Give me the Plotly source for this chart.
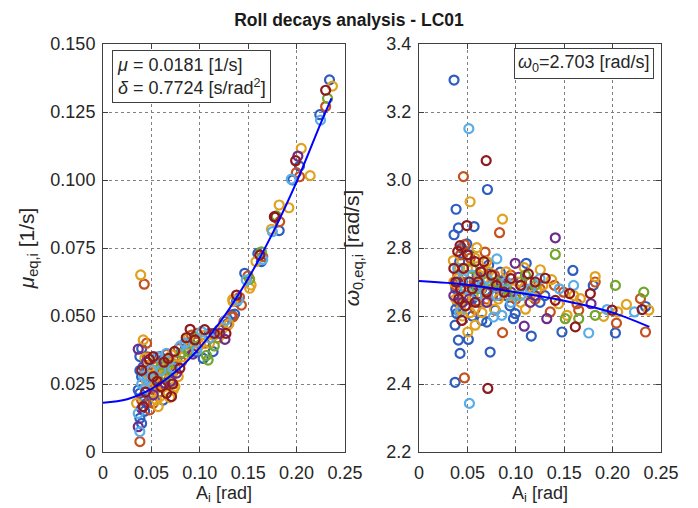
import plotly.graph_objects as go

# ---------------- data ----------------
series_names = ["blue", "orange", "yellow", "purple", "green", "lightblue", "darkred"]
series_colors = ["#2D5DBE", "#C4511E", "#E0A21E", "#6E2C8C", "#72A62D", "#5AADE8", "#8C1A1E"]

# left panel: (A_i [rad], mu_eq,i [1/s])
blue_left = [(0.0381,0.0351),(0.0416,0.0314),(0.0399,0.0277),(0.0364,0.0228),(0.0381,0.0216),(0.0381,0.0124),(0.0399,0.0105),(0.0450,0.0179),(0.0416,0.0204),(0.0484,0.0204),(0.0502,0.0246),(0.0622,0.0191),(0.0588,0.0351),(0.0691,0.0265),(0.0381,0.0300),(0.0433,0.0290),(0.0450,0.0330),(0.0520,0.0280),(0.0600,0.0310),(0.0700,0.0330),(0.0760,0.0340),(0.0850,0.0380),(0.1035,0.0344),(0.1137,0.0369),(0.1100,0.0436),(0.1280,0.0470),(0.1360,0.0507),(0.1380,0.0553),(0.1327,0.0504),(0.1464,0.0657),(0.1600,0.0730),(0.1636,0.0700),(0.1820,0.0814),(0.1960,0.1000),(0.2030,0.1051),(0.2340,0.1368),(0.2240,0.1240),(0.0900,0.0400),(0.0650,0.0300),(0.0550,0.0240),
             (0.0400,0.0380),(0.0470,0.0250),(0.0540,0.0300),(0.0620,0.0340),(0.0800,0.0360),(0.0950,0.0370),(0.1200,0.0450),(0.0430,0.0150)]
orange_left = [(0.0399,0.0191),(0.0381,0.0038),(0.0450,0.0400),(0.0426,0.0617),(0.0553,0.0314),(0.0725,0.0295),(0.0811,0.0332),(0.0519,0.0179),(0.0484,0.0155),(0.0970,0.0436),(0.1327,0.0498),(0.1290,0.0467),(0.1498,0.0647),(0.1410,0.0569),(0.1430,0.0540),(0.1344,0.0497),(0.1650,0.0718),(0.1825,0.0847),(0.1997,0.1027),(0.2030,0.1012),(0.2300,0.1270),(0.0620,0.0330),(0.0480,0.0260),(0.0700,0.0250),(0.0580,0.0220),(0.0914,0.0430),(0.1180,0.0420),(0.0440,0.0300),(0.0660,0.0360),(0.0780,0.0380),
               (0.0460,0.0350),(0.0530,0.0230),(0.0600,0.0280),(0.0680,0.0320),(0.0850,0.0400),(0.1050,0.0400),(0.1250,0.0480)]
yellow_left = [(0.0389,0.0651),(0.0416,0.0412),(0.0433,0.0345),(0.0467,0.0283),(0.0450,0.0259),(0.0553,0.0253),(0.0622,0.0283),(0.0588,0.0204),(0.0553,0.0191),(0.0570,0.0167),(0.0742,0.0240),(0.0725,0.0228),(0.0777,0.0277),(0.0760,0.0320),(0.0708,0.0357),(0.0863,0.0375),(0.0880,0.0418),(0.1000,0.0393),(0.1050,0.0430),(0.1190,0.0418),(0.1240,0.0455),(0.1343,0.0553),(0.1340,0.0561),(0.1530,0.0614),(0.1515,0.0602),(0.1580,0.0700),(0.1740,0.0819),(0.1820,0.0908),(0.1920,0.0898),(0.2048,0.1116),(0.2140,0.1016),(0.2370,0.1345),(0.0347,0.0179),(0.0600,0.0270),(0.0650,0.0310),(0.0520,0.0330),(0.0690,0.0200),(0.0830,0.0350),(0.1100,0.0400),(0.0950,0.0380),
               (0.0480,0.0310),(0.0500,0.0220),(0.0630,0.0240),(0.0670,0.0340),(0.0710,0.0280),(0.0900,0.0390),(0.1150,0.0430),(0.1300,0.0470),(0.0560,0.0290)]
purple_left = [(0.0364,0.0378),(0.0364,0.0093),(0.0639,0.0253),(0.1206,0.0436),(0.1260,0.0414),(0.2013,0.1088),(0.0400,0.0160),(0.0760,0.0290),(0.0520,0.0210),(0.0930,0.0360),(0.0450,0.0330),(0.0700,0.0260)]
green_left = [(0.0811,0.0363),(0.1069,0.0355),(0.1086,0.0338),(0.0605,0.0320),(0.1515,0.0635),(0.1636,0.0736),(0.1790,0.0868),(0.2320,0.1300),(0.0700,0.0300),(0.0950,0.0420),(0.1150,0.0390),(0.0650,0.0280),(0.0880,0.0370)]
lightblue_left = [(0.0364,0.0142),(0.0381,0.0075),(0.0433,0.0234),(0.0502,0.0302),(0.0656,0.0363),(0.0845,0.0400),(0.0970,0.0375),(0.1020,0.0442),(0.1270,0.0485),(0.1395,0.0559),(0.1480,0.0632),(0.1650,0.0708),(0.1750,0.0810),(0.1945,0.1003),(0.2247,0.1220),(0.0420,0.0280),(0.0560,0.0350),(0.0720,0.0310),(0.0400,0.0250),
                  (0.0460,0.0270),(0.0600,0.0300),(0.0800,0.0390),(0.1100,0.0420)]
darkred_left = [(0.0416,0.0167),(0.0519,0.0351),(0.0674,0.0344),(0.0794,0.0308),(0.0708,0.0204),(0.0519,0.0277),(0.0656,0.0216),(0.0900,0.0451),(0.0950,0.0412),(0.1150,0.0436),(0.1270,0.0436),(0.1380,0.0577),(0.1620,0.0724),(0.1770,0.0865),(0.1780,0.0863),(0.1990,0.1071),(0.2300,0.1330),(0.0480,0.0340),(0.0600,0.0240),(0.0740,0.0370),(0.0440,0.0220),
                (0.0560,0.0260),(0.0630,0.0330),(0.0720,0.0250),(0.0860,0.0420),(0.1050,0.0450),(0.0400,0.0300)]

# right panel: (A_i [rad], omega_0,eq,i [rad/s])
blue_right = [(0.0362,3.294),(0.0707,2.972),(0.0383,2.914),(0.0407,2.859),(0.0569,2.863),(0.0362,2.839),(0.0494,2.812),(0.1108,2.755),(0.1590,2.734),(0.0407,2.529),(0.0510,2.531),(0.0424,2.490),(0.0735,2.494),(0.1160,2.541),(0.0373,2.573),(0.0390,2.607),(0.0649,2.587),(0.0700,2.582),(0.0976,2.592),(0.0994,2.607),(0.0787,2.617),(0.0373,2.405),(0.2340,2.628),(0.2029,2.550),(0.1477,2.553),(0.0839,2.729),(0.0450,2.700),(0.0550,2.650),(0.0600,2.720),(0.0420,2.760),(0.0480,2.630),(0.0380,2.680),(0.0650,2.680),(0.0900,2.660),(0.1050,2.700),(0.0520,2.780),(0.0720,2.750),(0.0380,2.620),(0.1300,2.660),(0.1800,2.690),
              (0.0400,2.640),(0.0460,2.720),(0.0580,2.690),(0.0620,2.640),(0.0680,2.710),(0.0760,2.660),(0.0850,2.690),(0.0940,2.630),(0.1120,2.670),(0.1250,2.640),(0.0440,2.800),(0.0550,2.600)]
orange_right = [(0.0459,3.010),(0.0832,2.845),(0.0683,2.788),(0.0863,2.551),(0.0469,2.418),(0.1820,2.700),(0.2288,2.651),(0.2340,2.553),(0.2040,2.579),(0.1632,2.636),(0.1650,2.617),(0.1356,2.612),(0.1494,2.670),(0.0400,2.720),(0.0480,2.660),(0.0550,2.740),(0.0620,2.700),(0.0700,2.650),(0.0780,2.720),(0.0900,2.690),(0.1000,2.650),(0.1150,2.700),(0.0430,2.780),(0.0580,2.620),(0.1250,2.680),
                (0.0380,2.690),(0.0440,2.640),(0.0500,2.700),(0.0530,2.770),(0.0600,2.660),(0.0660,2.730),(0.0740,2.690),(0.0840,2.660),(0.0950,2.720),(0.1080,2.680),(0.1200,2.650),(0.1400,2.690),(0.0470,2.810),(0.0570,2.700)]
yellow_right = [(0.0528,2.936),(0.0863,2.885),(0.0597,2.801),(0.0355,2.763),(0.1087,2.742),(0.1253,2.736),(0.1820,2.716),(0.1370,2.707),(0.0504,2.553),(0.0580,2.573),(0.2374,2.617),(0.2143,2.634),(0.2053,2.612),(0.1908,2.599),(0.1667,2.651),(0.1529,2.602),(0.1218,2.680),(0.1442,2.636),(0.0380,2.650),(0.0450,2.690),(0.0500,2.740),(0.0560,2.660),(0.0620,2.720),(0.0680,2.640),(0.0750,2.700),(0.0820,2.650),(0.0900,2.730),(0.0980,2.680),(0.1050,2.640),(0.1150,2.660),(0.0430,2.620),(0.0700,2.760),(0.0530,2.610),(0.0400,2.710),
                (0.0360,2.700),(0.0420,2.740),(0.0470,2.650),(0.0520,2.700),(0.0580,2.770),(0.0640,2.680),(0.0720,2.730),(0.0780,2.620),(0.0860,2.700),(0.0940,2.660),(0.1020,2.700),(0.1100,2.620),(0.1280,2.690),(0.1600,2.660),(0.0450,2.600),(0.0650,2.610)]
purple_right = [(0.1408,2.830),(0.0994,2.755),(0.1028,2.714),(0.1087,2.570),(0.1777,2.636),(0.1320,2.592),(0.0360,2.660),(0.0600,2.690),(0.0850,2.700),(0.1200,2.660),(0.0450,2.640),
                (0.0400,2.700),(0.0520,2.650),(0.0700,2.640),(0.0950,2.670),(0.1150,2.640)]
green_right = [(0.1408,2.781),(0.2029,2.690),(0.2322,2.670),(0.1820,2.602),(0.1650,2.592),(0.1511,2.592),(0.0700,2.700),(0.0900,2.680),(0.1100,2.720),(0.0550,2.740),
               (0.0600,2.680),(0.0800,2.700),(0.1000,2.660),(0.1200,2.690)]
lightblue_right = [(0.0515,3.151),(0.0804,2.768),(0.0769,2.597),(0.0856,2.602),(0.0521,2.343),(0.1597,2.690),(0.2226,2.612),(0.1943,2.619),(0.1753,2.550),(0.0400,2.740),(0.0480,2.680),(0.0600,2.660),(0.0700,2.710),(0.0950,2.640),(0.1150,2.680),(0.0420,2.610),
                   (0.0450,2.710),(0.0550,2.720),(0.0650,2.690),(0.0800,2.660),(0.0900,2.700),(0.1050,2.660),(0.1250,2.710),(0.1450,2.680)]
darkred_right = [(0.0694,3.057),(0.0494,2.866),(0.0424,2.807),(0.0442,2.587),(0.0711,2.387),(0.1304,2.711),(0.1130,2.724),(0.1556,2.666),(0.1615,2.568),(0.1770,2.666),(0.1408,2.646),(0.2305,2.619),(0.1995,2.617),(0.0400,2.790),(0.0460,2.740),(0.0520,2.700),(0.0580,2.760),(0.0640,2.730),(0.0700,2.670),(0.0800,2.690),(0.0950,2.710),(0.0480,2.630),(0.0380,2.700),
                 (0.0360,2.740),(0.0430,2.680),(0.0500,2.780),(0.0550,2.680),(0.0610,2.700),(0.0670,2.760),(0.0750,2.720),(0.0880,2.670),(0.1050,2.690),(0.1200,2.700),(0.0410,2.650),(0.0580,2.640)]

# fitted curves
fit_left_x = [0.0, 0.025, 0.05, 0.075, 0.10, 0.125, 0.15, 0.175, 0.20, 0.225, 0.236]
fit_left_y = [0.0181, 0.0194, 0.0232, 0.0295, 0.0384, 0.0498, 0.0638, 0.0803, 0.0993, 0.1209, 0.1300]
fit_right_x = [0.0, 0.05, 0.10, 0.15, 0.20, 0.238]
fit_right_y = [2.703, 2.692, 2.670, 2.645, 2.610, 2.568]

x_ticks = [0, 0.05, 0.10, 0.15, 0.20, 0.25]
x_ticktext = ["0", "0.05", "0.10", "0.15", "0.20", "0.25"]
mu_ticks = [0, 0.025, 0.05, 0.075, 0.10, 0.125, 0.15]
mu_ticktext = ["0", "0.025", "0.050", "0.075", "0.100", "0.125", "0.150"]
om_ticks = [2.2, 2.4, 2.6, 2.8, 3.0, 3.2, 3.4]
om_ticktext = ["2.2", "2.4", "2.6", "2.8", "3.0", "3.2", "3.4"]

title_text = "Roll decays analysis - LC01"
left_box = "<i>μ</i> = 0.0181 [1/s]<br><i>δ</i> = 0.7724 [s/rad<sup>2</sup>]"
right_box = "<i>ω</i><sub>0</sub>=2.703 [rad/s]"

# ---------------- figure ----------------
W, H = 698, 508
def fx(px): return px / W
def fy(py): return 1 - py / H

FONT = "Liberation Sans, Arial, sans-serif"
TXT = "#262626"

left_sets = [blue_left, orange_left, yellow_left, purple_left, green_left, lightblue_left, darkred_left]
right_sets = [blue_right, orange_right, yellow_right, purple_right, green_right, lightblue_right, darkred_right]

fig = go.Figure()
for name, col, pts in zip(series_names, series_colors, left_sets):
    fig.add_trace(go.Scatter(x=[p[0] for p in pts], y=[p[1] for p in pts], mode="markers",
                             name=name, xaxis="x", yaxis="y",
                             marker=dict(symbol="circle-open", size=9, color=col, line=dict(width=2.2, color=col))))
for name, col, pts in zip(series_names, series_colors, right_sets):
    fig.add_trace(go.Scatter(x=[p[0] for p in pts], y=[p[1] for p in pts], mode="markers",
                             name=name, xaxis="x2", yaxis="y2",
                             marker=dict(symbol="circle-open", size=9, color=col, line=dict(width=2.2, color=col))))
fig.add_trace(go.Scatter(x=fit_left_x, y=fit_left_y, mode="lines", line=dict(color="#0000FF", width=2, shape="spline"),
                         xaxis="x", yaxis="y"))
fig.add_trace(go.Scatter(x=fit_right_x, y=fit_right_y, mode="lines", line=dict(color="#0000FF", width=2, shape="spline"),
                         xaxis="x2", yaxis="y2"))

common = dict(showline=True, linecolor="#404040", linewidth=1, mirror="ticks", ticks="inside", ticklen=5,
              tickcolor="#404040", showgrid=True, gridcolor="#808080", griddash="dot", gridwidth=1,
              zeroline=False, automargin=False, tickfont=dict(size=18, color=TXT, family=FONT))

fig.update_layout(
    width=W, height=H, margin=dict(l=0, r=0, t=0, b=0, autoexpand=False),
    paper_bgcolor="white", plot_bgcolor="white", showlegend=False,
    font=dict(family=FONT, color=TXT),
    xaxis=dict(domain=[fx(103), fx(345)], range=[0, 0.25], tickvals=x_ticks, ticktext=x_ticktext, ticklabelstandoff=4,
               title=dict(text="A<sub>i</sub> [rad]", font=dict(size=18, color=TXT), standoff=4), anchor="y", **common),
    yaxis=dict(domain=[fy(452), fy(44)], range=[0, 0.15], tickvals=mu_ticks, ticktext=mu_ticktext, ticklabelstandoff=3,
               title=dict(text="<i>μ</i><sub>eq,i</sub> [1/s]", font=dict(size=21, color=TXT), standoff=10), anchor="x", **common),
    xaxis2=dict(domain=[fx(419), fx(661)], range=[0, 0.25], tickvals=x_ticks, ticktext=x_ticktext, ticklabelstandoff=4,
                title=dict(text="A<sub>i</sub> [rad]", font=dict(size=18, color=TXT), standoff=4), anchor="y2", **common),
    yaxis2=dict(domain=[fy(452), fy(44)], range=[2.2, 3.4], tickvals=om_ticks, ticktext=om_ticktext, ticklabelstandoff=3,
                title=dict(text="<i>ω</i><sub>0,eq,i</sub> [rad/s]", font=dict(size=21, color=TXT), standoff=21), anchor="x2", **common),
    title=dict(text="<b>" + title_text + "</b>", x=0.5, xanchor="center", y=fy(20), yanchor="middle",
               font=dict(size=17.5, color="#1a1a1a", family=FONT)),
)

fig.add_annotation(xref="paper", yref="paper", x=fx(112), y=fy(50), xanchor="left", yanchor="top",
                   text=left_box, showarrow=False, align="left", bordercolor="#404040", borderwidth=1,
                   borderpad=4, bgcolor="white", font=dict(size=18, color=TXT, family=FONT))
fig.add_annotation(xref="paper", yref="paper", x=fx(654), y=fy(48), xanchor="right", yanchor="top",
                   text=right_box, showarrow=False, align="left", bordercolor="#404040", borderwidth=1,
                   borderpad=3, bgcolor="white", font=dict(size=18, color=TXT, family=FONT))

fig.write_html("out.html")
